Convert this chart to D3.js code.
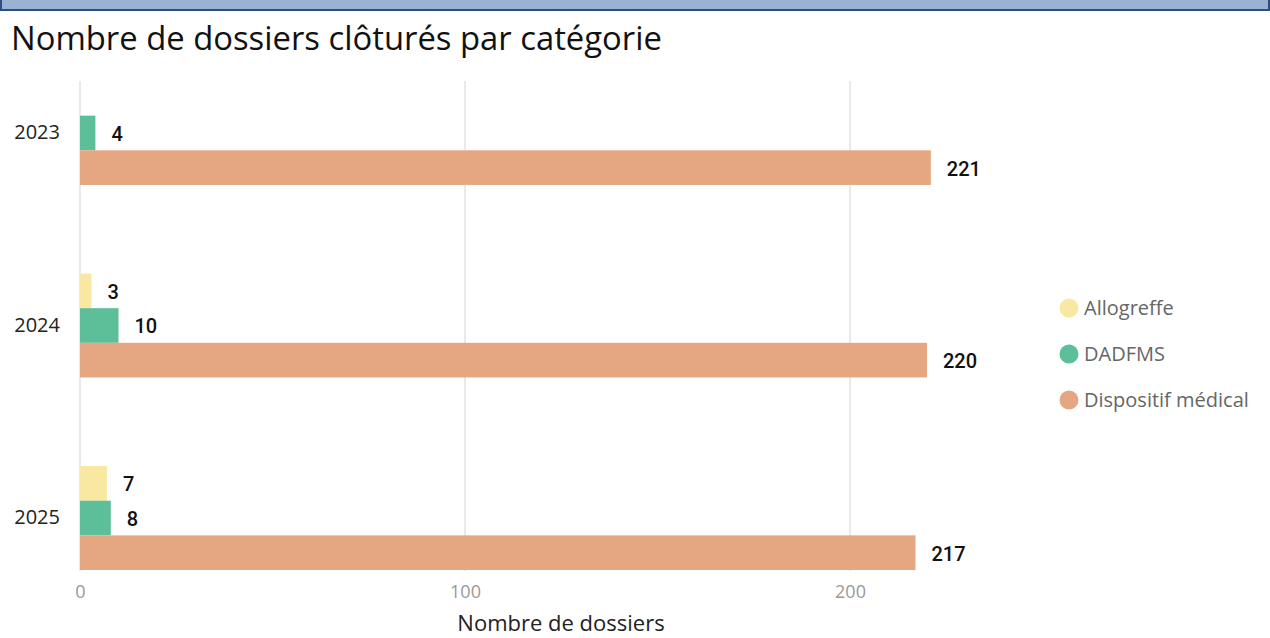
<!DOCTYPE html>
<html>
<head>
<meta charset="utf-8">
<script src="https://cdn.jsdelivr.net/npm/d3@7"></script>
<style>
  body { margin: 0; background: #fff; font-family: "Open Sans", "Noto Sans", sans-serif; }
</style>
</head>
<body>
<script>
// Closed files per year and category

var years = ["2023", "2024", "2025"];
var categories = ["Allogreffe", "DADFMS", "Dispositif médical"];
var allogreffe = [null, 3, 7];
var dadfms = [4, 10, 8];
var dispositif = [221, 220, 217];
var xTicks = [0, 100, 200];

var colors = ["#f9e8a1", "#5dbf9a", "#e4a781"];

// Page dimensions
var W = 1270, H = 638;
var plot = { left: 80, top: 81, bottom: 571 };

var svg = d3.select("body")
  .append("svg")
  .attr("width", W)
  .attr("height", H);

// header band
svg.append("rect")
  .attr("x", 0).attr("y", 0)
  .attr("width", W).attr("height", 10)
  .attr("fill", "#9bb3d3");
svg.append("rect")
  .attr("x", 0).attr("y", 9)
  .attr("width", W).attr("height", 2)
  .attr("fill", "#2d4f7f");
svg.append("rect").attr("x", 0).attr("y", 0).attr("width", 2).attr("height", 10).attr("fill", "#2d4f7f");
svg.append("rect").attr("x", W - 2).attr("y", 0).attr("width", 2).attr("height", 10).attr("fill", "#2d4f7f");

// title
svg.append("text")
  .attr("x", 11)
  .attr("y", 50)
  .attr("font-size", 32.8)
  .attr("fill", "#111")
  .text("Nombre de dossiers clôturés par catégorie");

// scales
var x = d3.scaleLinear().domain([0, 100]).range([plot.left, 465]);

var y = d3.scaleBand()
  .domain(years)
  .range([81, 570])
  .paddingInner(0.46)
  .paddingOuter(0);

var ySub = d3.scaleBand()
  .domain(categories)
  .range([0, y.bandwidth()]);

// gridlines
svg.append("g")
  .selectAll("line")
  .data(xTicks)
  .enter().append("line")
  .attr("x1", function(d) { return x(d); })
  .attr("x2", function(d) { return x(d); })
  .attr("y1", plot.top)
  .attr("y2", plot.bottom)
  .attr("stroke", "#e9e9e9")
  .attr("stroke-width", 2);

// x axis
var xAxis = d3.axisBottom(x).tickValues(xTicks).tickSize(0).tickPadding(0);
var gx = svg.append("g")
  .attr("transform", "translate(0,598)")
  .call(xAxis);
gx.select(".domain").remove();
gx.selectAll("text")
  .attr("font-size", 18)
  .attr("font-family", "'Open Sans', sans-serif")
  .attr("fill", "#999")
  .attr("dy", 0);

// y axis
var yAxis = d3.axisLeft(y).tickSize(0).tickPadding(20);
var gy = svg.append("g")
  .attr("transform", "translate(" + plot.left + ",0)")
  .call(yAxis);
gy.select(".domain").remove();
gy.selectAll("text")
  .attr("font-size", 20)
  .attr("font-family", "'Open Sans', sans-serif")
  .attr("fill", "#222");

// axis title
svg.append("text")
  .attr("x", 561)
  .attr("y", 631)
  .attr("text-anchor", "middle")
  .attr("font-size", 22)
  .attr("fill", "#222")
  .text("Nombre de dossiers");

// build rows
var series = [allogreffe, dadfms, dispositif];
var rows = [];
years.forEach(function(yr, i) {
  categories.forEach(function(c, j) {
    if (series[j][i] != null) rows.push({ year: yr, cat: c, value: series[j][i], color: colors[j] });
  });
});

var bar = svg.append("g")
  .selectAll("g")
  .data(rows)
  .enter().append("g")
  .attr("transform", function(d) { return "translate(0," + (y(d.year) + ySub(d.cat)) + ")"; });

bar.append("rect")
  .attr("x", x(0))
  .attr("width", function(d) { return x(d.value) - x(0); })
  .attr("height", ySub.bandwidth())
  .attr("fill", function(d) { return d.color; });

bar.append("text")
  .attr("x", function(d) { return x(d.value) + 16; })
  .attr("y", ySub.bandwidth() / 2)
  .attr("dy", "0.4em")
  .attr("font-family", "Roboto, sans-serif")
  .attr("font-weight", 500)
  .attr("font-size", 20)
  .attr("fill", "#111")
  .text(function(d) { return d.value; });

// legend
var legend = svg.append("g")
  .selectAll("g")
  .data(categories)
  .enter().append("g")
  .attr("transform", function(d, i) { return "translate(1069," + (308 + i * 46) + ")"; });

legend.append("circle")
  .attr("r", 9.5)
  .attr("fill", function(d, i) { return colors[i]; });

legend.append("text")
  .attr("x", 15)
  .attr("dy", "0.35em")
  .attr("font-size", 20)
  .attr("fill", "#666")
  .text(function(d) { return d; });
</script>
</body>
</html>
